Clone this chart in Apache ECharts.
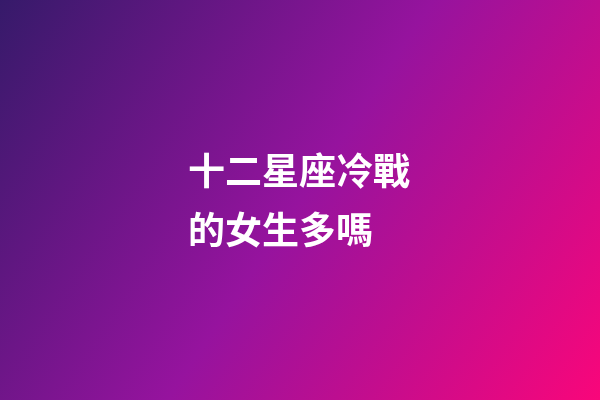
<!DOCTYPE html>
<html>
<head>
<meta charset="utf-8">
<script src="https://cdn.jsdelivr.net/npm/echarts@6/dist/echarts.min.js"></script>
<style>
html,body{margin:0;padding:0;background:#000;}
#main{width:600px;height:400px;}
</style>
</head>
<body>
<div id="main"></div>
<script>
var titleLines = ['十二星座冷戰', '的女生多嗎'];
var gradientStops = [
  { offset: 0, color: '#361a6a' },
  { offset: 0.5, color: '#96139e' },
  { offset: 1, color: '#f9067a' }
];

var chart = echarts.init(document.getElementById('main'), null, { renderer: 'canvas' });
var graphics = [{
  type: 'rect',
  left: 0, top: 0, z: 0,
  shape: { width: 600, height: 400 },
  style: {
    fill: new echarts.graphic.LinearGradient(0, 0, 1, 1, gradientStops)
  },
  silent: true
}];
titleLines.forEach(function (line, i) {
  graphics.push({
    type: 'text',
    z: 10,
    x: 188,
    y: 171 + i * 59,
    style: {
      text: line,
      fill: '#ffffff',
      font: 'bold 37px "Noto Sans CJK TC", "Noto Sans CJK SC", sans-serif',
      textAlign: 'left',
      textVerticalAlign: 'middle'
    }
  });
});
chart.setOption({
  animation: false,
  graphic: graphics
});
</script>
</body>
</html>
